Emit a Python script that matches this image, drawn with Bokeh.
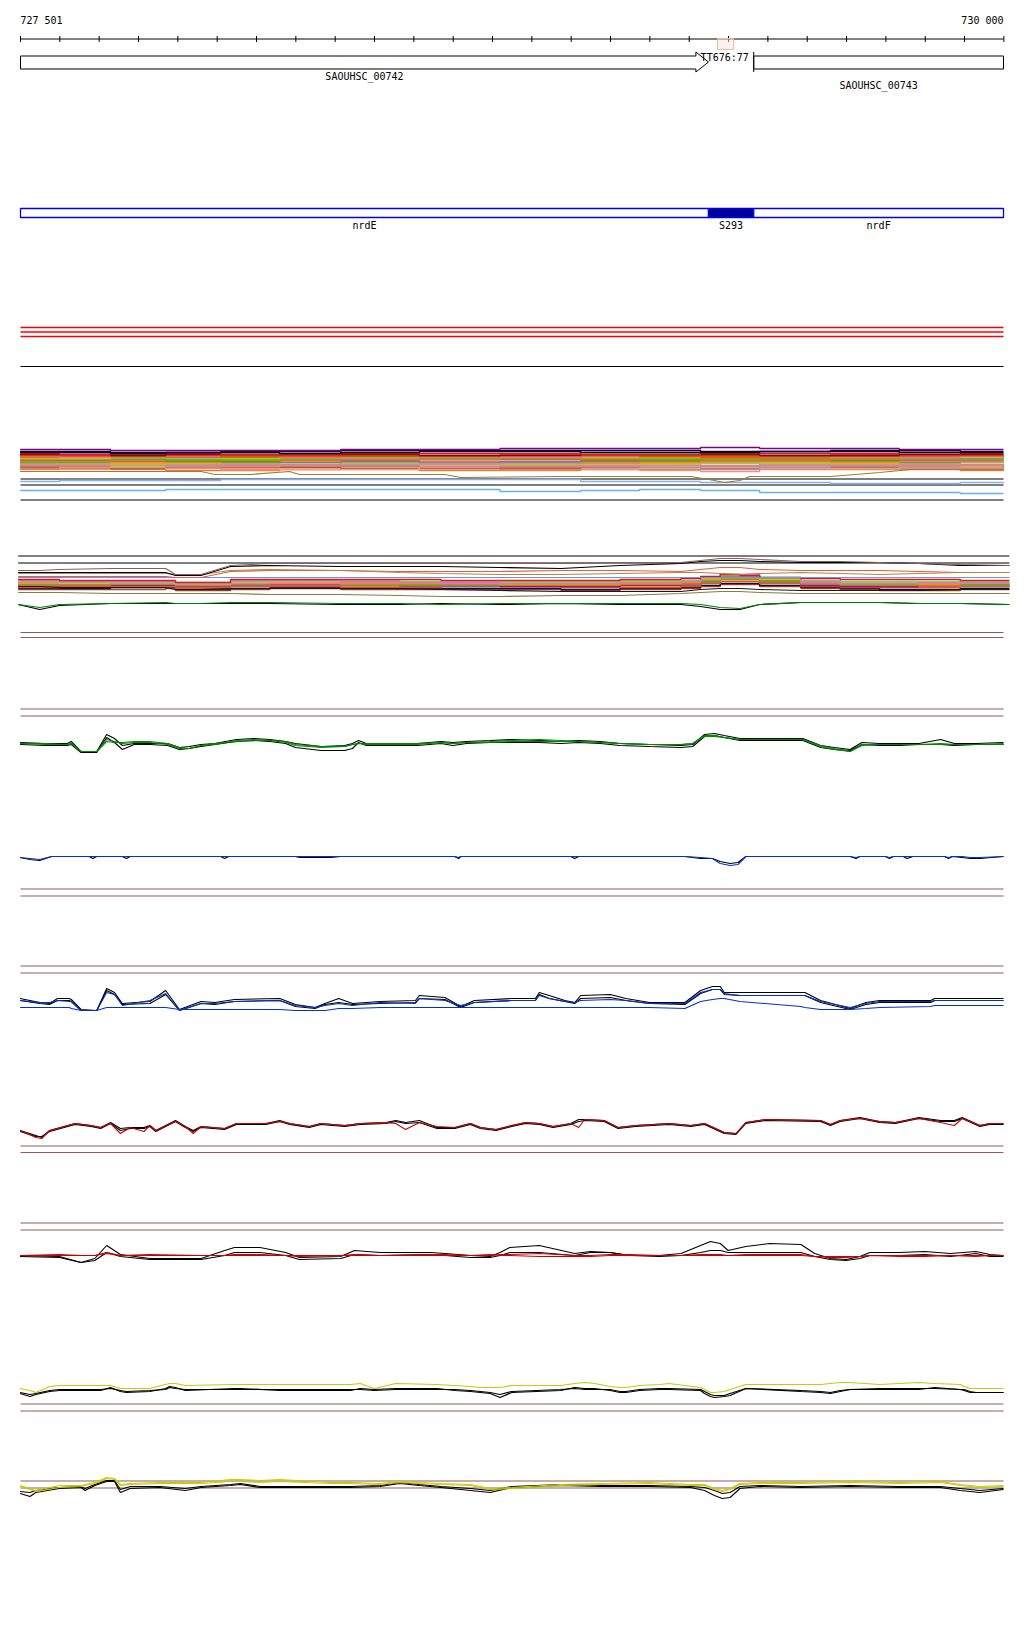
from bokeh.plotting import figure
from bokeh.models import Range1d
from bokeh.embed import file_html
from bokeh.resources import INLINE
from bokeh.core.properties import value

# ======================= DATA =======================
region = [727501, 730000]
region_labels = ["727 501", "730 000"]
ruler_ticks = list(range(727501, 730002, 100))

gene_names = ["SAOUHSC_00742", "SAOUHSC_00743"]
gene_starts = [727501, 729365]
gene_ends = [729250, 730000]
gene_strand = ["+", "."]
terminator_label = "TT676:77"
terminator_pos = 729230
highlight_span = [729273, 729314]

feat_names = ["nrdE", "S293", "nrdF"]
feat_starts = [727501, 729250, 729365]
feat_ends = [729250, 729365, 730000]

# ---- panel A (stacked coloured step tracks) ----
a_pos = [727500, 727600, 727730, 727870, 728010, 728160, 728315, 728515, 728720,
         728925, 729075, 729230, 729380, 729560, 729735, 729890, 730000]
a_purple = [26, 26, 25, 25, 25, 25, 26, 26, 27, 27, 27, 28, 27, 27, 26, 26, 26]
a_navy = [24, 24, 23, 23, 24, 24, 25, 25, 25, 25, 25, 24, 24, 25, 25, 24, 24]
a_black = [23, 23, 22, 23, 23, 22, 23, 24, 24, 23, 23, 23, 24, 24, 23, 23, 23]
a_crimson = [22, 21, 22, 22, 21, 21, 22, 22, 22, 21, 21, 22, 22, 22, 23, 22, 22]
a_darkred = [21, 21, 20, 21, 21, 21, 21, 20, 20, 21, 21, 21, 20, 20, 21, 21, 21]
a_orangered = [20, 20, 21, 20, 19, 19, 20, 20, 21, 20, 19, 19, 20, 21, 20, 20, 20]
a_olive = [20, 20, 19, 20, 20, 20, 19, 19, 20, 20, 20, 20, 19, 19, 20, 20, 20]
a_hotpink = [19, 18, 18, 19, 19, 18, 17, 18, 18, 19, 19, 20, 19, 18, 18, 19, 19]
a_chocolate = [18, 19, 19, 18, 18, 19, 19, 18, 18, 19, 19, 18, 18, 19, 19, 19, 18]
a_lawngreen = [17, 17, 18, 18, 17, 18, 18, 19, 19, 18, 18, 19, 20, 20, 19, 19, 20]
a_limegreen = [18, 18, 17, 16, 16, 17, 17, 17, 18, 18, 17, 17, 18, 18, 17, 17, 18]
a_darkgoldenrod = [17, 17, 16, 15, 15, 16, 16, 17, 17, 16, 16, 15, 15, 16, 17, 17, 17]
a_tomato = [16, 16, 15, 16, 16, 15, 16, 16, 17, 17, 16, 16, 17, 17, 16, 16, 16]
a_olivedrab = [15, 15, 15, 14, 14, 15, 15, 16, 16, 15, 15, 16, 15, 15, 16, 16, 16]
a_mediumorchid = [15, 15, 16, 16, 15, 15, 14, 13, 14, 14, 15, 15, 16, 16, 15, 15, 15]
a_darkorange = [14, 14, 13, 13, 14, 15, 15, 14, 14, 13, 13, 14, 14, 13, 14, 14, 14]
a_grey = [13, 13, 14, 14, 13, 13, 14, 14, 13, 13, 14, 14, 15, 14, 13, 14, 14]
a_darkkhaki = [14, 13, 12, 12, 12, 13, 13, 13, 12, 11, 11, 12, 12, 12, 13, 13, 12]
a_yellowgreen = [12, 12, 11, 12, 13, 13, 12, 12, 11, 12, 12, 13, 13, 12, 12, 13, 13]
a_rosybrown = [12, 11, 11, 10, 11, 11, 10, 11, 11, 12, 11, 9, 10, 10, 11, 11, 10]
a_lightcoral = [11, 10, 10, 9, 9, 10, 10, 9, 9, 10, 10, 10, 11, 11, 10, 10, 9]
a_plum = [10, 10, 11, 11, 10, 10, 11, 11, 10, 9, 8, 6, 8, 9, 9, 10, 9]
a_tan = [10, 10, 9, 9, 10, 10, 11, 11, 10, 9, 9, 8, 9, 10, 10, 9, 9]
a_indianred = [9, 9, 9, 8, 8, 9, 9, 9, 8, 8, 9, 9, 9, 10, 9, 9, 9]
a_lightsalmon = [9, 8, 8, 7, 7, 6, 6, 8, 8, 9, 9, 8, 7, 7, 8, 8, 8]
a_sienna = [8, 8, 7, 8, 8, 8, 7, 7, 7, 8, 8, 7, 7, 8, 8, 8, 7]
a_darksalmon = [7, 6, 7, 7, 6, 6, 7, 7, 6, 6, 5, 4, 6, 7, 7, 7, 7]
a_peru = [6, 7, 6, 5, 5, 6, 6, 5, 5, 6, 6, 7, 7, 6, 6, 5, 6]
a_cornflower = [-6, -5, -5, -5, -4, -4, -4, -4, -4, -6, -6, -7, -7, -8, -8, -7, -8]
a_skyblue = [-15, -15, -15, -14, -14, -14, -14, -14, -16, -15, -14, -15, -17, -17, -17, -18, -18]
a_gold_pos = [727500, 727960, 727995, 728085, 728185, 728210, 728580, 728620, 728860,
              729205, 729265, 729290, 729330, 729355, 729560, 729685, 729765, 730000]
a_gold = [4, 4, 1, 1, 4, 1, 1, -2, -1, -1, -5, -7, -5, -1, -1, 3, 6, 6]

# ---- panel B ----
b_pos = [727495, 727550, 727600, 727730, 727870, 727895, 727960, 728035, 728135, 728315,
         728465, 728570, 728720, 728875, 729025, 729180, 729230, 729280, 729330, 729380,
         729485, 729585, 729685, 729785, 729890, 730015]
b_rosybrown = [40, 40, 41, 42, 42, 36, 36, 45, 47, 47, 47, 47, 47, 47, 48, 48, 50, 52, 52, 51, 49, 49, 48, 47, 46, 45]
b_black = [38, 38, 38, 38, 38, 35, 35, 44, 45, 44, 44, 44, 43, 42, 45, 47, 49, 50, 50, 49, 48, 48, 48, 47, 45, 45]
b_tomato = [34, 34, 34, 34, 34, 33, 33, 39, 40, 40, 39, 39, 39, 40, 40, 39, 41, 43, 43, 41, 40, 40, 40, 39, 38, 38]
b_peru = [37, 37, 37, 37, 37, 36, 36, 40, 41, 40, 38, 37, 36, 36, 37, 38, 38, 37, 36, 37, 38, 37, 36, 37, 38, 38]
b_cornflower = [33, 33, 33, 33, 33, 33, 33, 33, 33, 33, 33, 33, 33, 33, 33, 33, 33, 33, 33, 33, 33, 33, 33, 33, 33, 33]
b_crimson = [31, 31, 30, 30, 30, 28, 28, 31, 31, 31, 31, 30, 30, 30, 31, 32, 34, 36, 35, 33, 32, 31, 31, 31, 30, 30]
b_purple = [25, 25, 26, 25, 25, 24, 24, 26, 26, 25, 25, 25, 24, 24, 25, 26, 30, 34, 34, 30, 25, 24, 24, 25, 25, 25]
b_olive = [27, 27, 27, 26, 26, 25, 25, 27, 28, 28, 27, 27, 27, 27, 28, 28, 31, 33, 33, 30, 28, 28, 27, 27, 26, 26]
b_lawngreen = [28, 28, 27, 27, 27, 26, 26, 28, 29, 29, 29, 28, 28, 28, 29, 30, 32, 33, 33, 31, 29, 28, 28, 29, 29, 29]
b_chocolate = [26, 26, 26, 27, 27, 25, 25, 26, 27, 26, 26, 26, 25, 25, 26, 27, 30, 32, 32, 30, 27, 26, 25, 25, 26, 26]
b_orangered = [23, 23, 24, 24, 24, 22, 22, 24, 24, 23, 23, 24, 24, 23, 23, 24, 27, 29, 29, 27, 24, 23, 23, 23, 24, 24]
b_yellowgreen = [29, 29, 29, 28, 28, 27, 27, 29, 30, 30, 29, 29, 29, 29, 30, 30, 33, 35, 35, 32, 30, 29, 29, 28, 28, 28]
b_plum = [30, 30, 29, 29, 29, 28, 28, 30, 30, 29, 28, 28, 27, 27, 28, 29, 33, 36, 36, 33, 29, 27, 27, 28, 28, 28]
b_grey = [24, 24, 25, 25, 24, 23, 23, 25, 25, 25, 24, 24, 24, 24, 25, 25, 28, 31, 31, 28, 25, 24, 24, 24, 24, 24]
b_navy = [22, 22, 22, 23, 23, 21, 21, 22, 23, 22, 22, 22, 22, 21, 22, 23, 25, 27, 27, 25, 23, 22, 21, 21, 22, 22]
b_darkorange = [27, 27, 28, 28, 28, 26, 26, 28, 28, 27, 27, 27, 26, 26, 27, 28, 31, 33, 33, 31, 28, 27, 27, 26, 27, 27]
b_indianred = [25, 25, 25, 24, 24, 23, 23, 24, 25, 25, 25, 25, 26, 26, 26, 26, 29, 31, 31, 29, 26, 25, 25, 24, 24, 24]
b_sienna = [21, 21, 21, 21, 22, 20, 20, 21, 22, 21, 21, 21, 21, 20, 21, 22, 24, 26, 26, 24, 22, 21, 20, 20, 21, 21]
b_hotpink = [28, 28, 28, 27, 27, 26, 26, 27, 27, 28, 28, 27, 27, 27, 28, 29, 33, 35, 35, 32, 28, 27, 27, 27, 27, 27]
b_limegreen = [26, 26, 27, 27, 27, 25, 25, 27, 27, 26, 26, 26, 26, 26, 27, 28, 30, 32, 32, 30, 27, 26, 26, 26, 25, 25]
b_dark = [24, 24, 23, 23, 23, 21, 21, 22, 22, 22, 22, 21, 20, 19, 19, 19, 21, 22, 22, 21, 20, 20, 20, 20, 21, 21]
b_olive2 = [18, 18, 18, 17, 17, 17, 17, 17, 16, 16, 15, 14, 14, 15, 15, 17, 18, 19, 19, 18, 17, 17, 17, 17, 17, 17]
b_green = [6, 3, 6, 7, 8, 7, 7, 8, 8, 7, 7, 6, 7, 7, 7, 7, 6, 3, 2, 6, 8, 8, 8, 7, 7, 6]
b_black2 = [6, 1, 5, 7, 7, 7, 7, 7, 7, 6, 6, 7, 6, 7, 6, 6, 4, 1, 1, 6, 8, 8, 8, 7, 7, 6]

# ---- group 1: green track ----
g1_pos = [727500, 727565, 727620, 727630, 727655, 727695, 727720, 727740, 727760, 727790,
          727830, 727875, 727905, 727930, 727960, 727995, 728050, 728095, 728135, 728175,
          728200, 728265, 728325, 728345, 728360, 728380, 728440, 728510, 728570, 728600,
          728635, 728695, 728750, 728820, 728875, 728920, 728975, 729025, 729100, 729180,
          729210, 729240, 729265, 729290, 729330, 729405, 729490, 729535, 729570, 729610,
          729640, 729685, 729735, 729785, 729840, 729875, 729930, 730000]
g1_green = [0, -1, -1, 0, -8, -8, 4, 2, 0, 1, 1, -1, -5, -5, -2, -1, 3, 4, 3, 1,
            -2, -4, -3, -1, 0, -1, -1, -1, 1, 0, 1, 2, 3, 4, 3, 2, 1, 0, -1, -1,
            0, 8, 8, 6, 4, 4, 4, -3, -6, -8, -1, -1, -1, -1, 0, -1, -1, 0]
g1_green2 = [0, 0, -1, 0, -8, -8, 2, 1, 1, 2, 2, 0, -4, -5, -2, 0, 2, 3, 3, 2,
             -1, -3, -3, -1, 0, 0, 0, 0, 1, 0, 1, 1, 2, 2, 2, 2, 1, 0, -1, -1,
             0, 7, 7, 6, 4, 4, 4, -2, -5, -8, -2, -1, -1, -1, -1, -1, -1, -1]
g1_black1 = [1, 0, 0, 2, -8, -8, 9, 5, -2, 0, 0, 0, -4, -3, -1, 0, 4, 5, 4, 2,
             0, -3, -2, 0, 3, 0, -1, 0, 2, 1, 2, 3, 4, 3, 2, 3, 2, 0, -1, -2,
             -1, 9, 10, 8, 5, 5, 5, -2, -4, -6, 1, 0, 0, 0, 4, 0, 0, 1]
g1_black2 = [-1, -2, -2, -1, -9, -9, 6, 1, -6, -1, -1, -2, -6, -5, -3, -1, 2, 3, 2, 0,
             -4, -7, -7, -5, 1, -2, -2, -2, 0, -2, 0, 1, 1, 1, 0, 1, 0, -2, -3, -4,
             -3, 7, 8, 6, 3, 3, 3, -4, -6, -7, -1, -2, -2, -1, -1, -2, -1, -1]

# ---- group 1: blue track ----
g1b_pos = [727500, 727525, 727550, 727580, 727675, 727685, 727695, 727760, 727770, 727780,
           728010, 728020, 728030, 728200, 728210, 728250, 728290, 728315, 728605, 728615,
           728620, 728900, 728910, 728920, 729190, 729230, 729260, 729280, 729305, 729325,
           729345, 729610, 729625, 729635, 729700, 729710, 729720, 729745, 729755, 729770,
           729850, 729860, 729870, 729895, 729915, 729940, 730000]
g1b_blue = [-1, -2, -3, 0, 0, 0, 0, 0, 0, 0, 0, 0, 0, 0, 0, 0, 0, 0, 0, -1,
            0, 0, 0, 0, 0, -1, -2, -7, -9, -8, 0, 0, -1, 0, 0, -1, 0, 0, 0, 0,
            0, -1, 0, 0, -1, -1, 0]
g1b_black = [-1, -3, -4, 0, 0, -2, 0, 0, -2, 0, 0, -2, 0, 0, -1, -1, -1, 0, 0, -2,
             0, 0, -2, 0, 0, -2, -2, -5, -7, -6, 0, 0, -2, 0, 0, -2, 0, 0, -2, 0,
             0, -2, 0, -1, -2, -2, 0]

# ---- group 2: blue/black track ----
g2a_pos = [727500, 727550, 727575, 727595, 727625, 727630, 727655, 727695, 727720, 727740,
           727760, 727830, 727870, 727905, 727960, 727995, 728045, 728160, 728200, 728250,
           728275, 728310, 728345, 728415, 728505, 728515, 728580, 728620, 728655, 728750,
           728810, 728820, 728845, 728885, 728910, 728925, 729000, 729040, 729100, 729190,
           729230, 729260, 729280, 729290, 729330, 729485, 729495, 729535, 729610, 729650,
           729685, 729815, 729825, 730000]
g2a_black1 = [9, 5, 4, 9, 9, 8, -2, -3, 19, 15, 4, 6, 17, -2, 6, 5, 8, 9, 3, 0,
              4, 9, 4, 6, 7, 12, 10, 1, 7, 9, 9, 15, 12, 7, 5, 12, 13, 9, 5, 5,
              17, 21, 21, 15, 15, 15, 15, 7, -1, 5, 7, 7, 9, 9]
g2a_black2 = [7, 4, 3, 7, 7, 6, -3, -3, 17, 13, 3, 4, 13, -3, 4, 3, 6, 7, 1, -1,
              3, 5, 3, 4, 5, 9, 8, 0, 5, 7, 7, 13, 9, 6, 4, 9, 10, 7, 4, 3,
              14, 18, 18, 13, 12, 12, 12, 5, -2, 3, 5, 5, 7, 7]
g2a_blue1 = [7, 5, 5, 7, 6, 6, -3, -3, 15, 13, 2, 7, 14, -3, 4, 4, 6, 7, 2, 0,
             2, 4, 2, 5, 4, 9, 7, 2, 5, 7, 7, 12, 9, 6, 5, 7, 8, 7, 4, 4,
             15, 18, 18, 14, 12, 12, 12, 6, 0, 4, 6, 6, 7, 7]
g2a_blue2 = [0, 0, 0, 0, 0, -1, -3, -3, 0, 0, 0, 0, 0, -2, -2, -2, -2, -2, -3, -3,
             -3, -1, -1, 0, 0, 0, 0, 0, 0, 0, 0, 0, 0, 0, 0, 0, 0, 0, 0, -1,
             6, 8, 9, 9, 6, 1, 0, -2, -2, -1, 0, 1, 2, 2]

# ---- group 2: red/black track ----
g2b_pos = [727500, 727540, 727555, 727575, 727640, 727680, 727705, 727730, 727755, 727780,
           727815, 727830, 727845, 727895, 727920, 727940, 727960, 728020, 728050, 728125,
           728160, 728185, 728235, 728265, 728325, 728365, 728430, 728455, 728480, 728515,
           728560, 728605, 728645, 728670, 728710, 728750, 728785, 728820, 728855, 728900,
           728920, 728935, 728985, 729020, 729065, 729150, 729205, 729240, 729290, 729320,
           729345, 729395, 729535, 729560, 729585, 729635, 729685, 729725, 729785, 729840,
           729875, 729895, 729940, 729965, 730000]
g2b_black1 = [-3, -8, -10, -3, 4, 2, 0, 5, -1, 0, 0, 2, -3, 7, 1, -3, 1, -1, 4, 4,
              7, 4, 1, 4, 2, 4, 5, 7, 5, 7, 0, 0, 4, 0, -2, 2, 5, 4, 1, 4,
              8, 8, 7, 0, 2, 4, 2, 4, -5, -6, 5, 8, 7, 3, 7, 10, 6, 5, 10, 7,
              7, 10, 2, 4, 4]
g2b_red = [-3, -10, -11, -3, 4, 2, 0, 4, -6, 0, -4, 2, -3, 6, 1, -6, 1, -1, 4, 4,
           6, 4, 1, 4, 2, 4, 5, 4, -2, 5, 1, 0, 4, 0, -2, 2, 5, 4, 1, 4,
           0, 8, 7, 0, 2, 4, 2, 4, -5, -6, 5, 8, 7, 3, 7, 9, 6, 5, 9, 5,
           2, 9, 2, 4, 4]
g2b_black2 = [-4, -9, -9, -4, 3, 1, -1, 4, -3, -1, -1, 1, -4, 6, 0, -4, 0, -2, 3, 3,
              6, 3, 0, 3, 1, 3, 4, 6, 4, 5, -1, -1, 3, -1, -3, 1, 4, 3, 0, 3,
              6, 7, 6, -1, 1, 3, 1, 3, -6, -7, 4, 7, 6, 2, 6, 9, 5, 4, 9, 6,
              6, 9, 1, 3, 3]

# ---- group 3: red/black track ----
g3a_pos = [727500, 727600, 727655, 727690, 727720, 727755, 727830, 727960, 728020, 728045,
           728110, 728175, 728210, 728315, 728350, 728415, 728545, 728580, 728645, 728695,
           728720, 728745, 728820, 728910, 728950, 729000, 729050, 729125, 729180, 729230,
           729255, 729280, 729300, 729345, 729405, 729485, 729520, 729560, 729600, 729635,
           729660, 729735, 729800, 729865, 729930, 729965, 730000]
g3a_red = [0, 1, 0, 0, 3, 0, 1, 0, 0, 1, 1, 0, 0, 0, 1, 0, 1, 1, 0, 0,
           1, 1, 2, 0, 0, 1, 1, 0, 0, 1, 1, 1, 0, 1, 1, 1, -1, -2, -2, -1,
           0, 0, 0, 0, 0, 0, 0]
g3a_red2 = [0, 0, 0, 0, 2, 0, 0, 0, 0, 0, 0, 0, -1, 0, 0, 0, 0, 0, 0, 1,
            0, 0, -1, -1, -1, 0, 0, 0, 0, 0, 0, 0, 0, 0, 0, 0, -1, -1, -1, -1,
            0, -1, -1, 0, -1, 0, 0]
g3a_black1 = [0, -1, -7, -3, 10, 1, -3, -3, 5, 8, 8, 3, -2, -1, 5, 3, 3, 2, 0, -1,
              3, 8, 10, 2, 4, 3, 0, 0, 2, 10, 14, 12, 5, 9, 12, 11, 2, -3, -4, -1,
              3, 3, 4, 2, 4, 1, 0]
g3a_black2 = [-1, -2, -7, -5, 3, -1, -4, -4, 0, 3, 3, 0, -4, -3, 1, 0, 1, 0, -2, -2,
              0, 3, 3, 0, 3, 3, 0, -1, 0, 3, 5, 5, 3, 3, 3, 3, -1, -4, -5, -3,
              0, 0, 1, -1, 2, -1, -1]

# ---- group 3: yellow/black track ----
g3b_pos = [727500, 727525, 727540, 727575, 727600, 727705, 727730, 727755, 727770, 727830,
           727870, 727880, 727895, 727920, 728045, 728060, 728160, 728340, 728365, 728400,
           728455, 728560, 728605, 728645, 728670, 728695, 728720, 728750, 728875, 728910,
           728935, 728960, 729000, 729025, 729040, 729075, 729125, 729150, 729230, 729240,
           729255, 729265, 729290, 729305, 729345, 729485, 729535, 729560, 729585, 729610,
           729685, 729735, 729785, 729825, 729890, 729900, 729915, 729930, 730000]
g3b_yellow = [1, -1, -3, 3, 4, 4, 4, 1, 1, 1, 5, 6, 6, 4, 5, 5, 5, 5, 6, 1,
              6, 5, 4, 3, 2, 2, 2, 4, 4, 6, 7, 6, 3, 2, 2, 4, 5, 6, 2, 0,
              -3, -3, -2, 0, 5, 5, 5, 6, 7, 7, 5, 6, 7, 6, 5, 3, 1, 1, 1]
g3b_black1 = [-4, -7, -5, -2, -1, -1, 2, -2, -3, -2, 1, 3, 2, -1, 1, 1, -1, -1, 1, 0,
              1, 1, -1, -2, -3, -4, -8, -3, -1, 2, 1, 1, -1, -3, -3, -1, 0, 0, -1, -4,
              -7, -8, -7, -6, 1, -2, -3, -4, -2, 0, 0, 0, 0, 2, 0, -1, -3, -3, -3]
g3b_black2 = [-3, -5, -4, -1, 0, 0, 1, -1, -2, -1, 0, 2, 1, 0, 0, 0, 0, 0, 0, -1,
              0, 0, 0, -1, -2, -3, -5, -2, 0, 1, 0, 0, 0, -2, -2, 0, 1, 1, 0, -2,
              -5, -6, -6, -4, 1, -1, -2, -3, -1, 0, 1, 1, 1, 1, 0, 0, -2, -3, -3]

# ---- group 4: yellow/black track ----
g4_pos = [727500, 727525, 727540, 727600, 727655, 727665, 727690, 727720, 727740, 727755,
          727780, 727855, 727920, 727960, 728035, 728060, 728110, 728160, 728290, 728340,
          728415, 728465, 728515, 728570, 728645, 728695, 728750, 728875, 728975, 729100,
          729205, 729240, 729265, 729285, 729305, 729330, 729380, 729485, 729610, 729735,
          729840, 729890, 729940, 730000]
g4_yellow1 = [-1, -4, -6, -1, -1, 0, 2, 7, 6, 0, 1, 2, 2, 2, 5, 5, 4, 5, 2, 2,
              1, 3, 2, 1, 0, -4, -3, 0, 1, 2, 0, 0, -4, -6, -4, 1, 2, 2, 3, 2,
              3, 0, -2, -1]
g4_yellow2 = [-2, -5, -7, -3, -2, -1, 1, 6, 5, -1, 0, 1, 1, 1, 3, 3, 2, 3, 1, 1,
              0, 2, 1, 0, -1, -5, -4, -1, 0, 1, -1, -1, -5, -7, -5, 0, 1, 1, 2, 1,
              2, -1, -3, -2]
g4_black1 = [-9, -12, -8, -4, -3, -6, -1, 3, 3, -8, -4, -3, -6, -3, -1, 0, -3, -3, -3, -3,
             -2, 1, -1, -3, -6, -8, -3, -1, -2, -2, -3, -6, -11, -14, -13, -4, -2, -3, -2, -3,
             -3, -6, -8, -5]
g4_black2 = [-7, -8, -6, -3, -2, -4, 0, 4, 4, -5, -2, -2, -4, -2, 0, 1, -2, -2, -2, -2,
             -1, 2, 0, -2, -4, -6, -2, 0, -1, -1, -2, -3, -6, -9, -8, -2, -1, -2, -1, -2,
             -2, -4, -6, -4]

# ======================= LAYOUT =======================
PAGE = 0          # bokeh's page template has no body margin
W, H = 1020, 1600
PX_L, PX_R = 20, 1003
px_per_bp = (PX_R - PX_L) / (region[1] - region[0])
x0 = region[0] - (PX_L - PAGE) / px_per_bp
x1 = region[1] + (PAGE + W - PX_R) / px_per_bp

p = figure(width=W, height=H, x_range=Range1d(x0, x1), y_range=Range1d(PAGE + H, PAGE),
           x_axis_type=None, y_axis_type=None, output_backend="svg",
           toolbar_location=None, min_border=0, outline_line_color=None,
           background_fill_color="white", border_fill_color="white")

baselines = {"A": 475, "B": 610, "G1a": 743, "G1b": 856, "G2a": 1007, "G2b": 1127,
             "G3a": 1255, "G3b": 1389, "G4": 1484}
ranges = {}
for name, base in baselines.items():
    s = base - PAGE - H
    ranges[name] = Range1d(start=s, end=s + H)
p.extra_y_ranges = ranges

FONT = value("DejaVu Sans Mono")
FS = "10px"

# header labels and ruler
p.text(x=[region[0]], y=[20], text=[region_labels[0]], text_font=FONT, text_font_size=FS,
       text_align="left", text_baseline="middle", text_color="black")
p.text(x=[region[1]], y=[20], text=[region_labels[1]], text_font=FONT, text_font_size=FS,
       text_align="right", text_baseline="middle", text_color="black")
p.segment(x0=[region[0]], y0=[38.5], x1=[region[1]], y1=[38.5], line_color="black", line_width=1)
p.segment(x0=ruler_ticks, y0=[35.5] * len(ruler_ticks), x1=ruler_ticks, y1=[41.5] * len(ruler_ticks),
          line_color="black", line_width=1)
p.quad(left=[highlight_span[0]], right=[highlight_span[1]], top=[38], bottom=[49],
       fill_color="#fde8e0", fill_alpha=0.5, line_color="#f2b8a0", line_width=1)

# genes
head = 32
for name, s, e, strand, row in zip(gene_names, gene_starts, gene_ends, gene_strand, [0, 1]):
    if strand == "+":
        xs = [s, e - head, e - head, e, e - head, e - head, s]
        ys = [55.5, 55.5, 51.5, 61.5, 71.5, 68.5, 68.5]
        p.patch(xs, ys, fill_color="white", line_color="black", line_width=1)
    else:
        p.quad(left=[s], right=[e], top=[55.5], bottom=[68.5], fill_color="white",
               line_color="black", line_width=1)
        p.segment(x0=[s], y0=[51.5], x1=[s], y1=[71.5], line_color="black", line_width=1)
    p.text(x=[(s + e) / 2], y=[76 + 9 * row], text=[name], text_font=FONT, text_font_size=FS,
           text_align="center", text_baseline="middle", text_color="black")
p.text(x=[terminator_pos], y=[56.5], text=[terminator_label], text_font=FONT, text_font_size=FS,
       text_align="left", text_baseline="middle", text_color="black")

# feature track
p.quad(left=feat_starts, right=feat_ends, top=[208] * 3, bottom=[217] * 3,
       fill_color=["white", "#000099", "white"], line_color="#0000ee", line_width=1.3)
p.text(x=[(s + e) / 2 for s, e in zip(feat_starts, feat_ends)], y=[225] * 3, text=feat_names,
       text_font=FONT, text_font_size=FS, text_align="center", text_baseline="middle",
       text_color="black")

# fixed guide lines
red_guides = [327, 331.5, 336]
p.segment(x0=[region[0]] * 3, y0=red_guides, x1=[region[1]] * 3, y1=red_guides,
          line_color="#ff0000", line_width=1.3)
black_guides = [366, 478.5, 484.5, 499.5]
p.segment(x0=[region[0]] * 4, y0=black_guides, x1=[region[1]] * 4, y1=black_guides,
          line_color="black", line_width=1.2)
b_guides = [555.5, 562.5]
p.segment(x0=[b_pos[0]] * 2, y0=b_guides, x1=[b_pos[-1]] * 2, y1=b_guides,
          line_color="black", line_width=1.2)
brown_guides = [632, 637, 708.5, 715.5, 888.5, 895.5, 965.5, 972.5, 1145.5, 1152,
                1222.5, 1229.5, 1403.5, 1410.5, 1480.5, 1487.5]
n = len(brown_guides)
p.segment(x0=[region[0]] * n, y0=brown_guides, x1=[region[1]] * n, y1=brown_guides,
          line_color="#945a5a", line_width=1.2)


def draw(track, pos, series, step=False, width=1.0):
    for vals, color in series:
        if step:
            p.step(pos, vals, mode="after", line_color=color, line_width=width, y_range_name=track)
        else:
            p.line(pos, vals, line_color=color, line_width=width, y_range_name=track)


draw("A", a_pos, [
    (a_peru, "#cd853f"), (a_darksalmon, "#e9967a"), (a_sienna, "#a0522d"),
    (a_lightsalmon, "#ffa07a"), (a_indianred, "#cd5c5c"), (a_tan, "#d2b48c"),
    (a_plum, "#c080c0"), (a_lightcoral, "#f08080"), (a_rosybrown, "#bc8f8f"),
    (a_yellowgreen, "#9acd32"), (a_darkkhaki, "#bdb76b"), (a_grey, "#808080"),
    (a_darkorange, "#ff8c00"), (a_mediumorchid, "#ba55d3"), (a_olivedrab, "#6b8e23"),
    (a_tomato, "#ff6347"), (a_darkgoldenrod, "#b8860b"), (a_limegreen, "#32cd32"),
    (a_lawngreen, "#7cfc00"), (a_chocolate, "#d2691e"), (a_hotpink, "#ff69b4"),
    (a_olive, "#808000"), (a_orangered, "#ff4500"), (a_darkred, "#8b0000"),
    (a_crimson, "#dc143c"), (a_black, "#000000"), (a_navy, "#000040"), (a_purple, "#800080"),
    (a_cornflower, "#88b0f0"), (a_skyblue, "#60b4f0"),
], step=True, width=1.4)
draw("A", a_gold_pos, [(a_gold, "#9c7f2f")], width=1.2)

draw("B", b_pos, [
    (b_sienna, "#a0522d"), (b_navy, "#101040"), (b_orangered, "#ff4500"), (b_grey, "#808080"),
    (b_purple, "#800080"), (b_indianred, "#cd5c5c"), (b_chocolate, "#d2691e"),
    (b_limegreen, "#32cd32"), (b_olive, "#808000"), (b_darkorange, "#ff8c00"),
    (b_lawngreen, "#7cfc00"), (b_hotpink, "#ff69b4"), (b_yellowgreen, "#9acd32"),
    (b_plum, "#c080c0"), (b_crimson, "#dc143c"),
], step=True, width=1.4)
draw("B", b_pos, [
    (b_cornflower, "#6495ed"), (b_tomato, "#e0603a"), (b_peru, "#c08040"),
    (b_black, "#000000"), (b_rosybrown, "#8b5f5f"), (b_dark, "#2a1018"),
    (b_olive2, "#808040"), (b_black2, "#000000"), (b_green, "#008000"),
], width=1.1)

draw("G1a", g1_pos, [(g1_black1, "black"), (g1_black2, "black"),
                     (g1_green2, "#008800"), (g1_green, "#008800")], width=1.1)
draw("G1b", g1b_pos, [(g1b_black, "black"), (g1b_blue, "#0033cc")], width=1.2)
draw("G2a", g2a_pos, [(g2a_black1, "black"), (g2a_black2, "black"),
                      (g2a_blue1, "#0033cc"), (g2a_blue2, "#0033cc")], width=1.1)
draw("G2b", g2b_pos, [(g2b_black1, "black"), (g2b_black2, "black"),
                      (g2b_red, "#cc0000")], width=1.1)
draw("G3a", g3a_pos, [(g3a_black1, "black"), (g3a_black2, "black"),
                      (g3a_red2, "#cc0000"), (g3a_red, "#cc0000")], width=1.1)
draw("G3b", g3b_pos, [(g3b_black1, "black"), (g3b_black2, "black"),
                      (g3b_yellow, "#c8cc00")], width=1.2)
draw("G4", g4_pos, [(g4_black1, "black"), (g4_black2, "black"),
                    (g4_yellow2, "#c8cc00"), (g4_yellow1, "#c8cc00")], width=1.1)

open("out.html", "w").write(file_html(p, INLINE))
